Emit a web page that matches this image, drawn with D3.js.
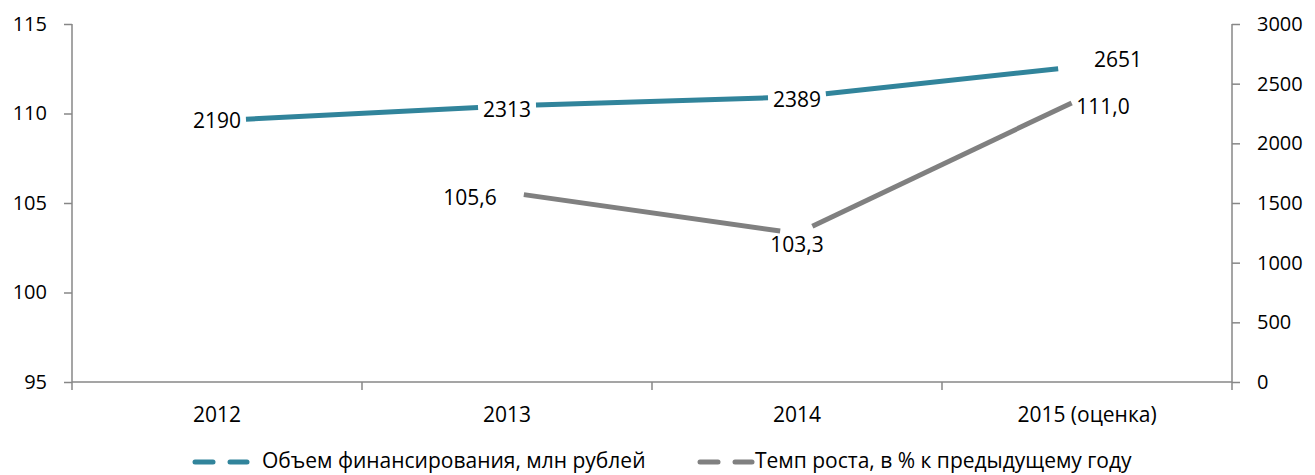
<!DOCTYPE html>
<html>
<head>
<meta charset="utf-8">
<script src="https://cdn.jsdelivr.net/npm/d3@7"></script>
<style>
  body { margin: 0; background: #fff; }
  svg text { font-family: 'Open Sans', Lato, sans-serif; fill: #000; }
</style>
</head>
<body>
<div id="wrapper"></div>
<script>
const years = ['2012', '2013', '2014', '2015 (оценка)']
const volume = [2190, 2313, 2389, 2651]
const growth = [null, 105.6, 103.3, 111.0]
const leftTicks = [95, 100, 105, 110, 115]
const rightTicks = [0, 500, 1000, 1500, 2000, 2500, 3000]
const seriesNames = ['Объем финансирования, млн рублей', 'Темп роста, в % к предыдущему году']

function drawChart() {
  const dimensions = {
    width: 1315,
    height: 475,
    margin: { top: 24, right: 83, bottom: 93, left: 72 },
  }
  dimensions.boundedWidth = dimensions.width - dimensions.margin.left - dimensions.margin.right
  dimensions.boundedHeight = dimensions.height - dimensions.margin.top - dimensions.margin.bottom

  const axisColor = '#878787'
  const teal = '#31849b'
  const grey = '#808080'

  const wrapper = d3.select('#wrapper')
    .append('svg')
    .attr('width', dimensions.width)
    .attr('height', dimensions.height)

  const bounds = wrapper.append('g')
    .attr('transform', `translate(${dimensions.margin.left},${dimensions.margin.top})`)

  const xScale = d3.scaleBand()
    .domain(years)
    .range([0, dimensions.boundedWidth])
  const xCenter = d => xScale(d) + xScale.bandwidth() / 2

  const yLeft = d3.scaleLinear()
    .domain([95, 115])
    .range([dimensions.boundedHeight, 0])

  const yRight = d3.scaleLinear()
    .domain([0, 3000])
    .range([dimensions.boundedHeight, 0])

  // left axis
  const yAxisLeft = bounds.append('g')
    .call(d3.axisLeft(yLeft).tickValues(leftTicks).tickSize(8).tickPadding(17))
  yAxisLeft.select('.domain').attr('d', `M0,0V${dimensions.boundedHeight + 8}`)

  // right axis
  const yAxisRight = bounds.append('g')
    .attr('transform', `translate(${dimensions.boundedWidth},0)`)
    .call(d3.axisRight(yRight).tickValues(rightTicks).tickFormat(d3.format('d')).tickSize(8).tickPadding(17))
  yAxisRight.select('.domain').attr('d', `M0,0V${dimensions.boundedHeight + 8}`)

  // bottom axis: labels centred, ticks on band edges
  const xAxis = bounds.append('g')
    .attr('transform', `translate(0,${dimensions.boundedHeight})`)
    .call(d3.axisBottom(xScale).tickSize(0).tickPadding(25))
  xAxis.select('.domain').attr('d', `M0,0H${dimensions.boundedWidth}`)
  xAxis.selectAll('.edge')
    .data(years.slice(1))
    .enter().append('line')
    .attr('class', 'edge')
    .attr('x1', d => xScale(d)).attr('x2', d => xScale(d))
    .attr('y1', 0).attr('y2', 8)
    .attr('stroke', axisColor).attr('stroke-width', 1.5)

  bounds.selectAll('.domain, .tick line')
    .attr('stroke', axisColor).attr('stroke-width', 1.5)
  bounds.selectAll('.tick text')
    .attr('font-size', 20)
  xAxis.selectAll('.tick text')
    .attr('font-size', 21)

  // lines with gaps round each point
  function drawSeries(values, yScale, color, gap) {
    const pts = years.map((y, i) => values[i] == null ? null : [xCenter(y), yScale(values[i])])
    const line = d3.line()
    for (let i = 0; i < pts.length - 1; i++) {
      const a = pts[i], b = pts[i + 1]
      if (!a || !b) continue
      const dx = b[0] - a[0], dy = b[1] - a[1]
      const len = Math.hypot(dx, dy)
      const ux = dx / len, uy = dy / len
      bounds.append('path')
        .attr('d', line([[a[0] + ux * gap, a[1] + uy * gap], [b[0] - ux * gap, b[1] - uy * gap]]))
        .attr('stroke', color)
        .attr('stroke-width', 5)
        .attr('fill', 'none')
    }
    return pts
  }

  const volPts = drawSeries(volume, yRight, teal, 29)
  const grPts = drawSeries(growth, yLeft, grey, 17)

  // data label offsets from each point (pixels)
  const volOffsets = [[0, 2], [0, 5], [0, 4], [31, -4]]
  const grOffsets = [null, [-37, 7], [0, 13], [16, 13]]

  const fmtVol = d => d3.format('d')(d)
  const fmtGr = d => d3.format('.1f')(d).replace('.', ',')

  bounds.selectAll('.vol-label')
    .data(volume)
    .enter().append('text')
    .attr('class', 'vol-label')
    .attr('x', (d, i) => volPts[i][0] + volOffsets[i][0])
    .attr('y', (d, i) => volPts[i][1] + volOffsets[i][1])
    .attr('text-anchor', 'middle')
    .attr('dominant-baseline', 'middle')
    .attr('font-size', 21)
    .text(fmtVol)

  bounds.selectAll('.gr-label')
    .data(growth.map((v, i) => ({ v, i })).filter(d => d.v != null))
    .enter().append('text')
    .attr('class', 'gr-label')
    .attr('x', d => grPts[d.i][0] + grOffsets[d.i][0])
    .attr('y', d => grPts[d.i][1] + grOffsets[d.i][1])
    .attr('text-anchor', 'middle')
    .attr('dominant-baseline', 'middle')
    .attr('font-size', 21)
    .text(d => fmtGr(d.v))

  // legend
  const legend = wrapper.append('g')
    .attr('transform', 'translate(0,462)')
  const legendItems = [
    { name: seriesNames[0], color: teal, x: 193, textX: 69 },
    { name: seriesNames[1], color: grey, x: 698, textX: 57 },
  ]
  const item = legend.selectAll('g')
    .data(legendItems)
    .enter().append('g')
    .attr('transform', d => `translate(${d.x},0)`)
  item.append('line')
    .attr('x1', 2).attr('x2', 20).attr('y1', 0).attr('y2', 0)
    .attr('stroke', d => d.color).attr('stroke-width', 5).attr('stroke-linecap', 'round')
  item.append('line')
    .attr('x1', 37).attr('x2', 54).attr('y1', 0).attr('y2', 0)
    .attr('stroke', d => d.color).attr('stroke-width', 5).attr('stroke-linecap', 'round')
  item.append('text')
    .attr('x', d => d.textX)
    .attr('y', 0)
    .attr('dominant-baseline', 'middle')
    .attr('font-size', 21)
    .text(d => d.name)
}

drawChart()
</script>
</body>
</html>
